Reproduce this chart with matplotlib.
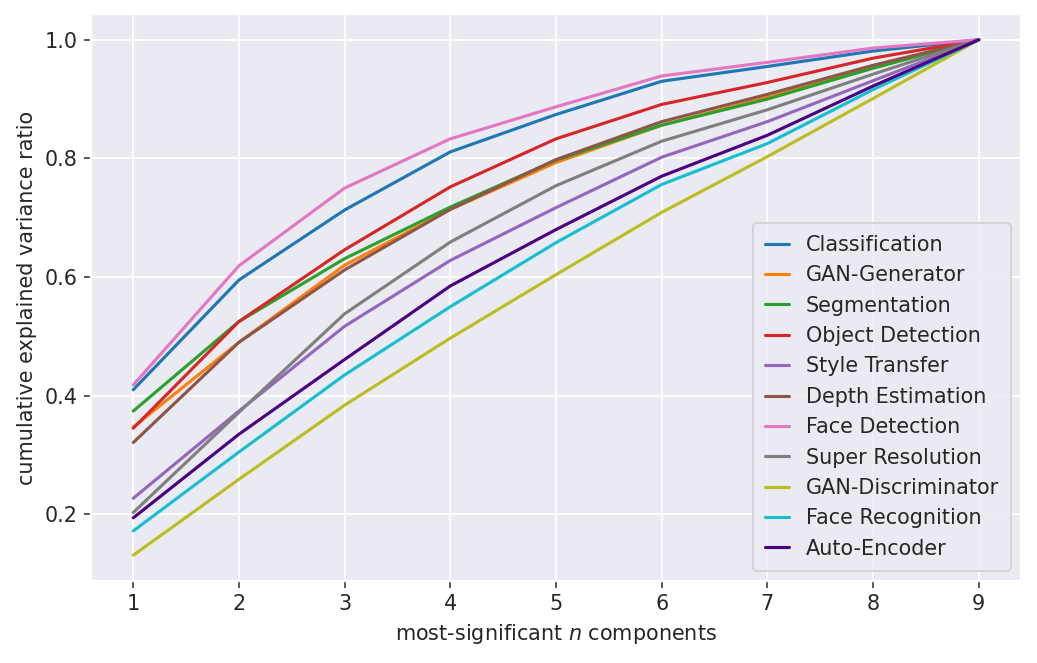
import numpy as np
import matplotlib
matplotlib.use("Agg")
import matplotlib.pyplot as plt
import seaborn as sns

sns.set_theme(style="darkgrid")
plt.rcParams['font.family'] = ['DejaVu Sans']

n_components = [1, 2, 3, 4, 5, 6, 7, 8, 9]

classification = [0.410, 0.595, 0.713, 0.811, 0.874, 0.930, 0.955, 0.981, 1.0]
gan_generator = [0.347, 0.490, 0.620, 0.714, 0.793, 0.856, 0.903, 0.953, 1.0]
segmentation = [0.374, 0.525, 0.631, 0.718, 0.797, 0.856, 0.900, 0.952, 1.0]
object_detection = [0.345, 0.525, 0.646, 0.752, 0.833, 0.891, 0.928, 0.969, 1.0]
style_transfer = [0.227, 0.374, 0.517, 0.628, 0.717, 0.802, 0.862, 0.931, 1.0]
depth_estimation = [0.321, 0.490, 0.612, 0.714, 0.798, 0.862, 0.908, 0.957, 1.0]
face_detection = [0.418, 0.619, 0.750, 0.833, 0.887, 0.939, 0.962, 0.986, 1.0]
super_resolution = [0.203, 0.372, 0.538, 0.659, 0.754, 0.829, 0.882, 0.942, 1.0]
gan_discriminator = [0.131, 0.259, 0.384, 0.497, 0.604, 0.709, 0.803, 0.901, 1.0]
face_recognition = [0.172, 0.305, 0.435, 0.550, 0.658, 0.756, 0.825, 0.916, 1.0]
auto_encoder = [0.194, 0.335, 0.461, 0.585, 0.680, 0.770, 0.839, 0.922, 1.0]

labels = ["Classification", "GAN-Generator", "Segmentation", "Object Detection",
          "Style Transfer", "Depth Estimation", "Face Detection", "Super Resolution",
          "GAN-Discriminator", "Face Recognition", "Auto-Encoder"]
series = [classification, gan_generator, segmentation, object_detection,
          style_transfer, depth_estimation, face_detection, super_resolution,
          gan_discriminator, face_recognition, auto_encoder]
colors = ["tab:blue", "tab:orange", "tab:green", "tab:red", "tab:purple",
          "tab:brown", "tab:pink", "tab:gray", "tab:olive", "tab:cyan", "indigo"]

dpi = 136
fig = plt.figure(figsize=(1037 / dpi, 663 / dpi), dpi=dpi)
ax = fig.add_axes([91 / 1037, 1 - 581 / 663, (1021 - 91) / 1037, (581 - 14) / 663])

for vals, lab, col in zip(series, labels, colors):
    ax.plot(n_components, vals, label=lab, color=col, linewidth=1.65)

ax.set_xticks(n_components)
ax.tick_params(axis='both', which='major', length=3.5, width=0.8, color='#262626',
               labelsize=11, left=True, bottom=True)
ax.set_xlabel("most-significant $n$ components", fontsize=11)
ax.set_ylabel("cumulative explained variance ratio", fontsize=11)
ax.legend(loc="lower right", fontsize=11, handlelength=1.15, borderpad=0.57)

fig.savefig("out.png", dpi=dpi)
